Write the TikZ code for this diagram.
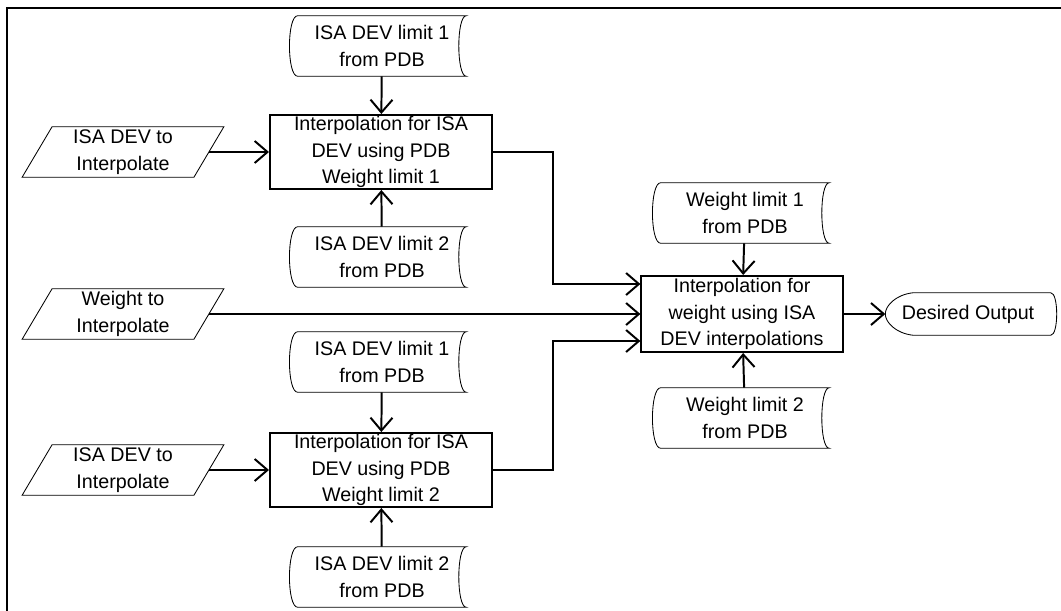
\documentclass[tikz,border=0pt]{standalone}
\usepackage{fontspec}
\setmainfont{Liberation Sans}
\usetikzlibrary{arrows.meta,calc}
\begin{document}
\begin{tikzpicture}[
  x=0.025cm, y=-0.025cm,
  font=\fontsize{14}{19}\selectfont,
  box/.style={draw, line width=1.4pt, align=center, inner sep=0pt, minimum width=5.55cm, minimum height=1.85cm},
  store/.style={align=center, inner sep=0pt, minimum width=4.2cm, minimum height=1.5cm},
  inp/.style={align=center, inner sep=0pt, minimum width=4.28cm, minimum height=1.25cm},
  outp/.style={align=center, inner sep=0pt, minimum width=4.12cm, minimum height=1.05cm},
  arr/.style={-{Straight Barb[length=3.2mm, width=5.5mm, line width=1.4pt]}, line width=1.4pt}
]
\useasboundingbox (0,0) rectangle (1061,611);
% frame
\draw[line width=1.4pt] (7,640) -- (7,8) -- (1090,8);

% upper ISA DEV branch
\node[store] (d11) at (382,46) {ISA DEV limit 1\\from PDB};
\node[box] (box1) at (381,152) {Interpolation for ISA\\DEV using PDB\\Weight limit 1};
\node[store] (d12) at (382,257) {ISA DEV limit 2\\from PDB};
\node[inp] (par1) at (123,152) {ISA DEV to\\Interpolate};

% weight input
\node[inp] (wpar) at (123,314) {Weight to\\Interpolate};

% lower ISA DEV branch
\node[store] (d21) at (382,362) {ISA DEV limit 1\\from PDB};
\node[box] (box2) at (381,470) {Interpolation for ISA\\DEV using PDB\\Weight limit 2};
\node[store] (d22) at (382,577) {ISA DEV limit 2\\from PDB};
\node[inp] (par2) at (123,470) {ISA DEV to\\Interpolate};

% weight interpolation
\node[store] (wd1) at (745,213) {Weight limit 1\\from PDB};
\node[box, minimum width=5.03cm, minimum height=1.9cm] (box3) at (742,314) {Interpolation for\\weight using ISA\\DEV interpolations};
\node[store] (wd2) at (745,418) {Weight limit 2\\from PDB};
\node[outp] (out) at (968,314) {Desired Output};

% outlines
\foreach \n in {d11,d12,d21,d22,wd1,wd2}
  \draw[line width=0.6pt] (\n.north west) .. controls ($(\n.north west)+(-11,0)$) and ($(\n.south west)+(-11,0)$) .. (\n.south west)
    -- (\n.south east) .. controls ($(\n.south east)+(-10,0)$) and ($(\n.north east)+(-10,0)$) .. (\n.north east) -- cycle;
\foreach \n in {par1,wpar,par2}
  \draw[line width=0.6pt] ($(\n.south west)+(-15,0)$) -- ($(\n.north west)+(15,0)$) -- ($(\n.north east)+(15,0)$) -- ($(\n.south east)+(-15,0)$) -- cycle;
\draw[line width=0.6pt] ($(out.north west)+(28,0)$) -- (out.north east)
  .. controls ($(out.north east)+(8,0)$) and ($(out.south east)+(8,0)$) .. (out.south east)
  -- ($(out.south west)+(28,0)$) .. controls ($(out.south west)+(10,-2)$) and ($(out.west)+(0,8)$) .. (out.west)
  .. controls ($(out.west)+(0,-8)$) and ($(out.north west)+(10,2)$) .. cycle;

% connectors
\draw[arr] (d11) -- (box1);
\draw[arr] (d12) -- (box1);
\draw[arr] (par1.east) -- (box1.west);
\draw[arr] (d21) -- (box2);
\draw[arr] (d22) -- (box2);
\draw[arr] (par2.east) -- (box2.west);
\draw[arr] (wd1) -- (box3);
\draw[arr] (wd2) -- (box3);
\draw[arr] (wpar.east) -- (wpar.east -| box3.west);
\draw[arr] (box1.east) -- ++(60,0) |- ($(box3.west)+(0,-30)$);
\draw[arr] (box2.east) -- ++(60,0) |- ($(box3.west)+(0,27)$);
\draw[arr] (box3) -- (out);
\end{tikzpicture}
\end{document}
